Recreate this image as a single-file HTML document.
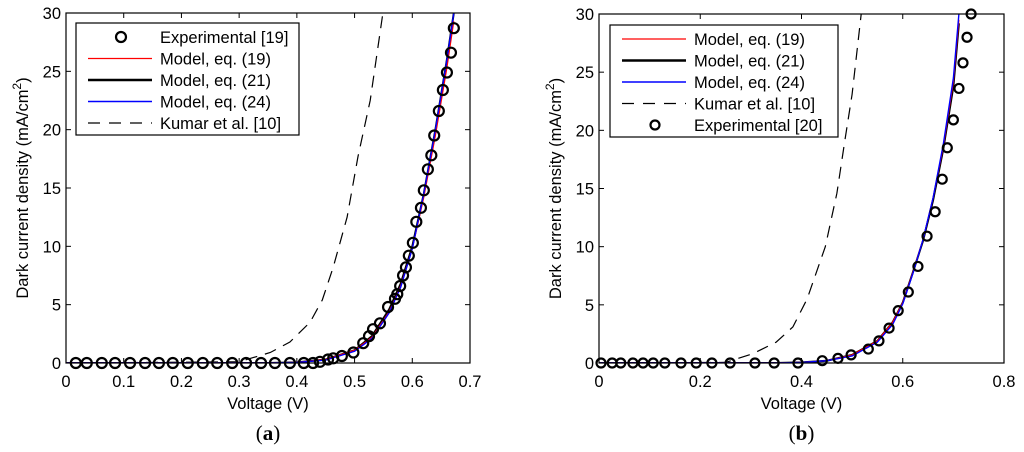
<!DOCTYPE html>
<html><head><meta charset="utf-8"><style>
html,body{margin:0;padding:0;background:#fff;}
svg{display:block;font-family:"Liberation Sans",sans-serif;}
</style></head><body>
<svg id="fig" width="1024" height="452" viewBox="0 0 1024 452" xmlns="http://www.w3.org/2000/svg"></svg>
<script>
// ---- Panel (a) data ----
const aExpV = [0.017,0.036,0.062,0.085,0.111,0.137,0.161,0.185,0.211,0.237,0.262,0.288,0.312,0.338,0.362,0.388,0.412,0.428,0.44,0.454,0.463,0.478,0.498,0.515,0.525,0.532,0.544,0.558,0.570,0.574,0.579,0.584,0.589,0.594,0.601,0.607,0.615,0.620,0.627,0.633,0.638,0.646,0.653,0.660,0.667,0.672];
const aExpJ = [0,0,0,0,0,0,0,0,0,0,0,0,0,0,0,0,0,0,0.1,0.3,0.4,0.6,0.9,1.7,2.3,2.9,3.4,4.8,5.5,5.9,6.6,7.5,8.2,9.2,10.3,12.1,13.3,14.8,16.6,17.8,19.5,21.6,23.4,24.9,26.6,28.7];
const aModelV = [0,0.35,0.40,0.45,0.50,0.53,0.56,0.58,0.60,0.62,0.64,0.66,0.672];
const aModel19J = [0,0,0.05,0.3,1.1,2.2,4.4,6.6,9.8,14.2,19.5,25.3,29.3];
const aModel21J = [0,0,0.05,0.3,1.1,2.3,4.6,6.8,10.0,14.5,20.0,26.0,30];
const aModel24J = [0,0,0.05,0.25,1.0,2.1,4.3,6.5,9.8,14.5,20.0,26.0,30];
const aKumarV = [0,0.30,0.354,0.388,0.423,0.444,0.463,0.487,0.506,0.527,0.549];
const aKumarJ = [0,0.1,0.9,1.8,3.5,5.4,8.2,12.5,17.7,22.5,30];
// ---- Panel (b) data ----
const bExpV = [0.004,0.026,0.043,0.067,0.087,0.107,0.130,0.162,0.192,0.223,0.259,0.308,0.346,0.393,0.441,0.472,0.498,0.532,0.553,0.573,0.591,0.611,0.630,0.648,0.664,0.678,0.688,0.700,0.711,0.719,0.727,0.735];
const bExpJ = [0,0,0,0,0,0,0,0,0,0,0,0,0,0,0.2,0.4,0.7,1.2,1.9,3.0,4.5,6.1,8.3,10.9,13.0,15.8,18.5,20.9,23.6,25.8,28.0,30];
const bModelV = [0,0.35,0.40,0.45,0.50,0.55,0.58,0.60,0.62,0.64,0.66,0.68,0.70,0.711];
const bModel19J = [0,0,0.05,0.2,0.7,1.9,3.5,5.2,7.8,10.6,14.2,18.6,24.2,29.5];
const bModel21J = [0,0,0.05,0.2,0.7,1.9,3.5,5.2,7.8,10.5,14.0,18.4,23.8,29.2];
const bModel24J = [0,0,0.05,0.2,0.6,1.8,3.3,5.1,7.7,10.6,14.2,18.8,24.5,30];
const bKumarV = [0,0.25,0.304,0.35,0.383,0.411,0.447,0.47,0.486,0.50,0.518];
const bKumarJ = [0,0.05,0.8,1.8,3.1,5.5,10,14.6,19.2,23.1,30];
const yTicks = [0,5,10,15,20,25,30];
const aXTicks = [0,0.1,0.2,0.3,0.4,0.5,0.6,0.7];
const bXTicks = [0,0.2,0.4,0.6,0.8];

const NS="http://www.w3.org/2000/svg";
const svg=document.getElementById('fig');
function mk(tag,attrs,parent){const e=document.createElementNS(NS,tag);for(const k in attrs)e.setAttribute(k,attrs[k]);(parent||svg).appendChild(e);return e;}

function panel(P){
  const g=mk('g',{});
  
  
  const sx=v=>P.x0+(v-0)/(P.xmax)*(P.x1-P.x0);
  const sy=v=>P.y0-(v/30)*(P.y0-P.y1);
  const clipId='clip'+P.id;
  const cp=mk('clipPath',{id:clipId},g);mk('rect',{x:P.x0,y:P.y1,width:P.x1-P.x0,height:P.y0-P.y1},cp);
  P.xt.forEach(t=>{
    const x=sx(t);
    mk('line',{x1:x,y1:P.y0,x2:x,y2:P.y0-5,stroke:'#000','stroke-width':1},g);
    mk('line',{x1:x,y1:P.y1,x2:x,y2:P.y1+5,stroke:'#000','stroke-width':1},g);
    const tx=mk('text',{x:x,y:P.y0+24,'text-anchor':'middle','font-size':16.5},g);
    
    
    tx.textContent=String(t);
  });
  yTicks.forEach(t=>{
    const y=sy(t);
    mk('line',{x1:P.x0,y1:y,x2:P.x0+5,y2:y,stroke:'#000','stroke-width':1},g);
    mk('line',{x1:P.x1,y1:y,x2:P.x1-5,y2:y,stroke:'#000','stroke-width':1},g);
    const tx=mk('text',{x:P.x0-5,y:y+6,'text-anchor':'end','font-size':16.5},g);
    
    
    tx.textContent=String(t);
  });
  const cg=mk('g',{'clip-path':'url(#'+clipId+')'},g);
  function line(V,J,color,w,dash,nm){
    const pts=V.map((v,i)=>sx(v).toFixed(1)+','+sy(J[i]).toFixed(1)).join(' ');
    const pl=mk('polyline',{points:pts,fill:'none',stroke:color,'stroke-width':w},cg);
    if(dash)pl.setAttribute('stroke-dasharray',dash);
    
    
  }
  line(P.kV,P.kJ,'#000',1.2,'12,8','kumar-curve');
  line(P.mV,P.m21,'#000',2,null,'model-eq21-curve');
  line(P.mV,P.m19,'#f00',1.2,null,'model-eq19-curve');
  line(P.mV,P.m24,'#00f',1.4,null,'model-eq24-curve');
  P.eV.forEach((v,i)=>{
    const c=mk('circle',{cx:sx(v),cy:sy(P.eJ[i]),r:P.r,fill:'none',stroke:'#000','stroke-width':2.2},g);
    
    
  });
  mk('rect',{x:P.x0,y:P.y1,width:P.x1-P.x0,height:P.y0-P.y1,fill:'none',stroke:'#000','stroke-width':1.2},g);
  const xl=mk('text',{x:(P.x0+P.x1)/2,y:P.y0+46,'text-anchor':'middle','font-size':16.5},g);
  
  
  xl.textContent='Voltage (V)';
  const yl=mk('text',{x:0,y:0,'text-anchor':'middle','font-size':16.5,transform:'translate('+P.ytx+','+((P.y0+P.y1)/2)+') rotate(-90)'},g);
  
  
  yl.innerHTML='Dark current density (mA/cm<tspan dy="-7" font-size="12">2</tspan><tspan dy="7">)</tspan>';
  const cap=mk('text',{x:(P.x0+P.x1)/2,y:P.y0+77,'text-anchor':'middle','font-size':21,'font-family':'Liberation Serif, serif'},g);
  
  
  cap.innerHTML='(<tspan font-weight="bold">'+P.cap+'</tspan>)';
  const L=P.leg;
  const lg=mk('g',{},g);
  
  
  mk('rect',{x:L.x,y:L.y,width:L.w,height:L.h,fill:'#fff',stroke:'#000','stroke-width':1.2},lg);
  L.items.forEach((it,i)=>{
    const y=L.y+14+i*21.5;
    const eg=mk('g',{},lg);
    
    
    if(it.t==='o')mk('circle',{cx:L.x+45,cy:y,r:P.r,fill:'none',stroke:'#000','stroke-width':2.2},eg);
    else{const l=mk('line',{x1:L.x+12,y1:y,x2:L.x+76,y2:y,stroke:it.c,'stroke-width':it.w},eg);if(it.d)l.setAttribute('stroke-dasharray',it.d);}
    const tx=mk('text',{x:L.x+84,y:y+6,'font-size':16.5},eg);
    tx.textContent=it.label;
  });
}
const ex={t:'o'},m19={c:'#f00',w:1.2},m21={c:'#000',w:2.5},m24={c:'#00f',w:1.5},ku={c:'#000',w:1.2,d:'12,9'};
panel({id:'a',name:'panel-a',x0:66,x1:470,y0:363,y1:13,xmax:0.7,xt:aXTicks,r:5,
  eV:aExpV,eJ:aExpJ,mV:aModelV,m19:aModel19J,m21:aModel21J,m24:aModel24J,kV:aKumarV,kJ:aKumarJ,ytx:28,cap:'a',
  leg:{x:76,y:23,w:223,h:112,items:[Object.assign({label:'Experimental [19]'},ex),Object.assign({label:'Model, eq. (19)'},m19),Object.assign({label:'Model, eq. (21)'},m21),Object.assign({label:'Model, eq. (24)'},m24),Object.assign({label:'Kumar et al. [10]'},ku)]}});
panel({id:'b',name:'panel-b',x0:599,x1:1004,y0:363,y1:14,xmax:0.8,xt:bXTicks,r:4.5,
  eV:bExpV,eJ:bExpJ,mV:bModelV,m19:bModel19J,m21:bModel21J,m24:bModel24J,kV:bKumarV,kJ:bKumarJ,ytx:561,cap:'b',
  leg:{x:610,y:25,w:228,h:112,items:[Object.assign({label:'Model, eq. (19)'},m19),Object.assign({label:'Model, eq. (21)'},m21),Object.assign({label:'Model, eq. (24)'},m24),Object.assign({label:'Kumar et al. [10]'},ku),Object.assign({label:'Experimental [20]'},ex)]}});
</script>
</body></html>
